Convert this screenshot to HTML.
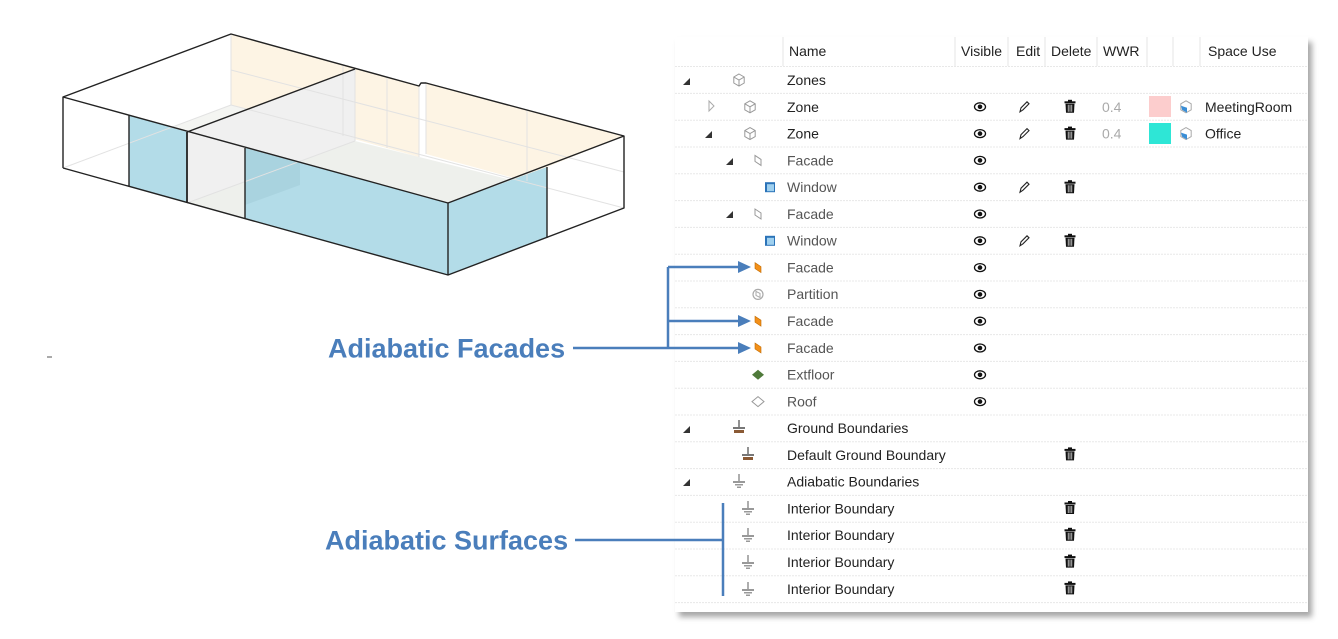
<!DOCTYPE html>
<html><head><meta charset="utf-8"><style>
html,body{margin:0;padding:0;background:#fff;width:1338px;height:639px;overflow:hidden}
svg{display:block}
text{font-family:"Liberation Sans",Arial,sans-serif}
</style></head><body>
<svg width="1338" height="639" viewBox="0 0 1338 639" xmlns="http://www.w3.org/2000/svg">
<defs>
<filter id="sh" x="-5%" y="-5%" width="115%" height="115%"><feDropShadow dx="4" dy="5" stdDeviation="3" flood-color="#000" flood-opacity="0.35"/></filter>
<g id="eye"><ellipse cx="0" cy="0" rx="5.5" ry="4" fill="#fff" stroke="#111" stroke-width="1.3"/><circle cx="0" cy="0" r="2.3" fill="#111"/></g>
<g id="pen"><path d="M-4,5 L-3,1 L3,-5 L5,-3 L-1,3 Z" fill="#fff" stroke="#222" stroke-width="1.1"/></g>
<g id="trash"><rect x="-5.5" y="-5.5" width="11" height="2" fill="#111"/><rect x="-2" y="-7" width="4" height="2" fill="#111"/><path d="M-4.5,-3 L4.5,-3 L4,6 L-4,6 Z" fill="#111"/><path d="M-1.8,-2 V5 M0,-2 V5 M1.8,-2 V5" stroke="#fff" stroke-width="0.7"/></g>
<g id="hex"><path d="M0,-6 L5.2,-3 L5.2,3 L0,6 L-5.2,3 L-5.2,-3 Z M-5.2,-3 L0,0 L5.2,-3 M0,0 V6" fill="#fff" stroke="#999" stroke-width="1"/></g>
<g id="fac"><path d="M-3,-5 L3,-1 L3,5 L-3,1 Z" fill="#fff" stroke="#999" stroke-width="1"/></g>
<g id="ofac"><path d="M-3,-5 L3,-1 L3,5 L-3,1 Z" fill="#f39019" stroke="#c06a00" stroke-width="0.6"/></g>
<g id="win"><rect x="-5" y="-5" width="10" height="10" fill="#2b73b8"/><rect x="-3" y="-3" width="7" height="7" fill="#9fd0ef"/></g>
<g id="gnd"><path d="M0,-7 V0" stroke="#777" stroke-width="1.6"/><rect x="-6" y="0" width="12" height="2" fill="#777"/><rect x="-5" y="3" width="10" height="3" fill="#8a5a35"/></g>
<g id="adb"><path d="M0,-7 V0" stroke="#999" stroke-width="1.6"/><rect x="-6" y="0" width="12" height="2" fill="#999"/><rect x="-4" y="3" width="8" height="1.5" fill="#999"/><rect x="-2" y="5.5" width="4" height="1.5" fill="#999"/></g>
</defs>

<polygon points="231,34 419,86 419,157 231,105" fill="#fdf4e4"/>
<polygon points="426,83 624,136 624,208 426,154" fill="#fdf4e4"/>
<polygon points="355,141 624,208 448,275 187,203" fill="#eef0ec"/>
<polygon points="63,168 231,105 355,141 187,203" fill="#f4f5f2"/>
<polygon points="63,97 187,132 187,203 63,168" fill="#fff"/>
<polygon points="187,132 355,69 355,141 187,203" fill="#f0f0f0"/>
<polygon points="129,115 187,132 187,203 129,186" fill="#b3dce8"/>
<polygon points="245,148 448,203 448,275 245,219" fill="#b3dce8"/>
<polygon points="448,203 547,167 547,238 448,275" fill="#b3dce8"/>
<polygon points="245,148 300,163 300,185 245,205" fill="#a5cedb" opacity="0.7"/>
<polygon points="547,167 624,136 624,208 547,238" fill="#fff"/>
<g stroke="#e2e2e2" stroke-width="1" fill="none">
<line x1="231" y1="34" x2="231" y2="105"/><line x1="63" y1="168" x2="231" y2="105"/><line x1="231" y1="105" x2="624" y2="208"/>
<line x1="343" y1="66" x2="343" y2="136"/><line x1="355" y1="69" x2="355" y2="141"/><line x1="387" y1="77" x2="387" y2="148"/>
<line x1="419" y1="86" x2="419" y2="157"/><line x1="426" y1="83" x2="426" y2="154"/>
<line x1="527" y1="110" x2="527" y2="181"/><line x1="231" y1="70" x2="624" y2="172"/>
<line x1="187" y1="203" x2="355" y2="141"/>
</g>
<g stroke="#222" stroke-width="1.4" fill="none" stroke-linejoin="round">
<polyline points="63,168 63,97 231,34 419,86 421,83 426,83 624,136 624,208 448,275 63,168"/>
<polyline points="63,97 448,203 624,136"/>
<line x1="448" y1="203" x2="448" y2="275"/>
<line x1="187" y1="132" x2="355" y2="69"/>
<line x1="187" y1="132" x2="187" y2="203" stroke-width="1.8"/>
<line x1="129" y1="115" x2="129" y2="186"/>
<line x1="245" y1="148" x2="245" y2="219"/>
<line x1="547" y1="167" x2="547" y2="238"/>
</g>
<line x1="47" y1="357" x2="52" y2="357" stroke="#555" stroke-width="1"/>

<rect x="675" y="37" width="633" height="575" fill="#fff" filter="url(#sh)"/>
<g stroke="#e6e6e6" stroke-width="1">
<line x1="783" y1="37" x2="783" y2="66"/><line x1="955" y1="37" x2="955" y2="66"/><line x1="1008" y1="37" x2="1008" y2="66"/>
<line x1="1045" y1="37" x2="1045" y2="66"/><line x1="1097" y1="37" x2="1097" y2="66"/><line x1="1147" y1="37" x2="1147" y2="66"/>
<line x1="1173" y1="37" x2="1173" y2="66"/><line x1="1200" y1="37" x2="1200" y2="66"/>
</g>
<g stroke="#e8e8e8" stroke-width="1" stroke-dasharray="2,1">
<line x1="675" y1="66.5" x2="1308" y2="66.5"/>
<line x1="675" y1="93.4" x2="1308" y2="93.4"/><line x1="675" y1="120.2" x2="1308" y2="120.2"/><line x1="675" y1="147" x2="1308" y2="147"/>
<line x1="675" y1="173.8" x2="1308" y2="173.8"/><line x1="675" y1="200.6" x2="1308" y2="200.6"/><line x1="675" y1="227.4" x2="1308" y2="227.4"/>
<line x1="675" y1="254.2" x2="1308" y2="254.2"/><line x1="675" y1="281" x2="1308" y2="281"/><line x1="675" y1="307.8" x2="1308" y2="307.8"/>
<line x1="675" y1="334.6" x2="1308" y2="334.6"/><line x1="675" y1="361.4" x2="1308" y2="361.4"/><line x1="675" y1="388.2" x2="1308" y2="388.2"/>
<line x1="675" y1="415" x2="1308" y2="415"/><line x1="675" y1="441.8" x2="1308" y2="441.8"/><line x1="675" y1="468.6" x2="1308" y2="468.6"/>
<line x1="675" y1="495.4" x2="1308" y2="495.4"/><line x1="675" y1="522.2" x2="1308" y2="522.2"/><line x1="675" y1="549" x2="1308" y2="549"/>
<line x1="675" y1="575.8" x2="1308" y2="575.8"/><line x1="675" y1="602.6" x2="1308" y2="602.6"/>
</g>
<g font-size="14" fill="#222">
<text x="789" y="56">Name</text><text x="961" y="56">Visible</text><text x="1016" y="56">Edit</text>
<text x="1051" y="56">Delete</text><text x="1103" y="56">WWR</text><text x="1208" y="56">Space Use</text>
</g>
<g fill="#333">
<path d="M683,85 L690,85 L690,78 Z"/>
<path d="M705,138 L712,138 L712,131 Z"/>
<path d="M726,165 L733,165 L733,158 Z"/>
<path d="M726,218 L733,218 L733,211 Z"/>
<path d="M683,433 L690,433 L690,426 Z"/>
<path d="M683,486 L690,486 L690,479 Z"/>
</g>
<path d="M709,101 L709,111 L714,106 Z" fill="none" stroke="#aaa" stroke-width="1"/>
<use href="#hex" x="739" y="80"/><use href="#hex" x="750" y="106.8"/><use href="#hex" x="750" y="133.6"/>
<use href="#fac" x="758" y="160.4"/><use href="#win" x="770" y="187.2"/>
<use href="#fac" x="758" y="214"/><use href="#win" x="770" y="240.8"/>
<use href="#ofac" x="758" y="267.6"/>
<g transform="translate(758,294.4)"><circle r="5" fill="#fff" stroke="#aaa" stroke-width="1.2"/><path d="M-2,-3 L2,-1 L2,3 L-2,1 Z" fill="none" stroke="#aaa" stroke-width="1"/></g>
<use href="#ofac" x="758" y="321.2"/><use href="#ofac" x="758" y="348"/>
<path d="M752,374.8 L758,369.8 L764,374.8 L758,379.8 Z" fill="#4f7a3a"/>
<path d="M752,401.6 L758,396.6 L764,401.6 L758,406.6 Z" fill="#fff" stroke="#999" stroke-width="1"/>
<use href="#gnd" x="739" y="427"/><use href="#gnd" x="748" y="454"/>
<use href="#adb" x="739" y="481"/><use href="#adb" x="748" y="508"/><use href="#adb" x="748" y="535"/><use href="#adb" x="748" y="562"/><use href="#adb" x="748" y="589"/>
<g font-size="14">
<text x="787" y="85" fill="#222">Zones</text>
<text x="787" y="112" fill="#222">Zone</text>
<text x="787" y="138.5" fill="#222">Zone</text>
<text x="787" y="165.5" fill="#555">Facade</text>
<text x="787" y="192" fill="#555">Window</text>
<text x="787" y="219" fill="#555">Facade</text>
<text x="787" y="245.5" fill="#555">Window</text>
<text x="787" y="272.5" fill="#555">Facade</text>
<text x="787" y="299" fill="#555">Partition</text>
<text x="787" y="326" fill="#555">Facade</text>
<text x="787" y="353" fill="#555">Facade</text>
<text x="787" y="379.5" fill="#555">Extfloor</text>
<text x="787" y="406.5" fill="#555">Roof</text>
<text x="787" y="433" fill="#222">Ground Boundaries</text>
<text x="787" y="460" fill="#222">Default Ground Boundary</text>
<text x="787" y="486.5" fill="#222">Adiabatic Boundaries</text>
<text x="787" y="513.5" fill="#222">Interior Boundary</text>
<text x="787" y="540" fill="#222">Interior Boundary</text>
<text x="787" y="567" fill="#222">Interior Boundary</text>
<text x="787" y="594" fill="#222">Interior Boundary</text>
<text x="1102" y="112" fill="#aaa">0.4</text>
<text x="1102" y="138.5" fill="#aaa">0.4</text>
<text x="1205" y="112" fill="#222">MeetingRoom</text>
<text x="1205" y="138.5" fill="#222">Office</text>
</g>
<rect x="1149" y="96" width="22" height="21" fill="#fccdcd"/>
<rect x="1149" y="123" width="22" height="21" fill="#2ee6d6"/>
<g transform="translate(1186,106.8)"><path d="M0,-6 L5.2,-3 L5.2,3 L0,6 L-5.2,3 L-5.2,-3 Z" fill="#fff" stroke="#aaa"/><path d="M-5,-1 L1,1 L1,6 L-4,3 Z" fill="#3a8ed6"/></g>
<g transform="translate(1186,133.6)"><path d="M0,-6 L5.2,-3 L5.2,3 L0,6 L-5.2,3 L-5.2,-3 Z" fill="#fff" stroke="#aaa"/><path d="M-5,-1 L1,1 L1,6 L-4,3 Z" fill="#3a8ed6"/></g>
<use href="#eye" x="980" y="106.8"/><use href="#eye" x="980" y="133.6"/><use href="#eye" x="980" y="160.4"/>
<use href="#eye" x="980" y="187.2"/><use href="#eye" x="980" y="214"/><use href="#eye" x="980" y="240.8"/>
<use href="#eye" x="980" y="267.6"/><use href="#eye" x="980" y="294.4"/><use href="#eye" x="980" y="321.2"/>
<use href="#eye" x="980" y="348"/><use href="#eye" x="980" y="374.8"/><use href="#eye" x="980" y="401.6"/>
<use href="#pen" x="1024" y="106.8"/><use href="#pen" x="1024" y="133.6"/><use href="#pen" x="1024" y="187.2"/><use href="#pen" x="1024" y="240.8"/>
<use href="#trash" x="1070" y="106.8"/><use href="#trash" x="1070" y="133.6"/><use href="#trash" x="1070" y="187.2"/><use href="#trash" x="1070" y="240.8"/>
<use href="#trash" x="1070" y="454.4"/><use href="#trash" x="1070" y="508"/><use href="#trash" x="1070" y="534.8"/><use href="#trash" x="1070" y="561.6"/><use href="#trash" x="1070" y="588.4"/>

<text x="328" y="357.5" font-size="27" font-weight="bold" fill="#4a7ebb">Adiabatic Facades</text>
<text x="325" y="549.5" font-size="27" font-weight="bold" fill="#4a7ebb">Adiabatic Surfaces</text>
<g stroke="#4a7ebb" stroke-width="2.5" fill="none">
<line x1="573" y1="348" x2="668" y2="348"/>
<line x1="668" y1="267" x2="668" y2="348"/>
<line x1="668" y1="267" x2="740" y2="267"/>
<line x1="668" y1="321" x2="740" y2="321"/>
<line x1="668" y1="348" x2="740" y2="348"/>
<line x1="575" y1="540" x2="723" y2="540"/>
<line x1="723" y1="503" x2="723" y2="596"/>
</g>
<g fill="#4a7ebb">
<path d="M738,261 L751,267 L738,273 Z"/>
<path d="M738,315 L751,321 L738,327 Z"/>
<path d="M738,342 L751,348 L738,354 Z"/>
</g>
</svg>
</body></html>
